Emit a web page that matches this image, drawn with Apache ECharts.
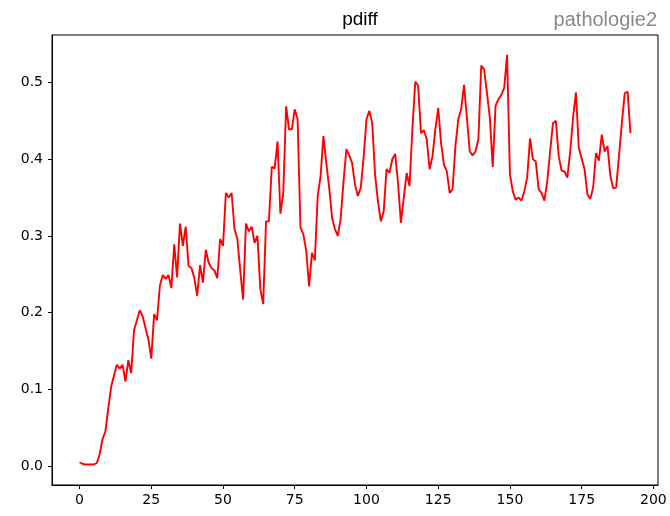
<!DOCTYPE html>
<html>
<head>
<meta charset="utf-8">
<script src="https://cdn.jsdelivr.net/npm/echarts@6/dist/echarts.min.js"></script>
<style>
  html, body { margin: 0; padding: 0; background: #fff; }
  #main { width: 670px; height: 516px; }
</style>
</head>
<body>
<div id="main"></div>
<script>
// pdiff values, one per step 0..192
var pdiff = [
  0.005, 0.003, 0.002, 0.002, 0.002, 0.002, 0.004, 0.015, 0.035, 0.045,
  0.075, 0.103, 0.118, 0.132, 0.127, 0.132, 0.110, 0.138, 0.121, 0.177,
  0.190, 0.203, 0.195, 0.180, 0.165, 0.140, 0.198, 0.190, 0.235, 0.249,
  0.244, 0.249, 0.232, 0.289, 0.246, 0.316, 0.287, 0.312, 0.261, 0.258,
  0.245, 0.222, 0.262, 0.239, 0.282, 0.265, 0.258, 0.255, 0.245, 0.296,
  0.287, 0.356, 0.350, 0.356, 0.309, 0.296, 0.255, 0.217, 0.316, 0.306,
  0.312, 0.291, 0.300, 0.231, 0.211, 0.319, 0.319, 0.390, 0.388, 0.423,
  0.329, 0.356, 0.469, 0.439, 0.439, 0.465, 0.452, 0.311, 0.302, 0.281,
  0.234, 0.278, 0.268, 0.352, 0.378, 0.430, 0.395, 0.363, 0.324, 0.309,
  0.300, 0.322, 0.371, 0.413, 0.405, 0.395, 0.367, 0.352, 0.363, 0.402,
  0.452, 0.463, 0.447, 0.380, 0.345, 0.319, 0.332, 0.387, 0.382, 0.400,
  0.407, 0.369, 0.317, 0.350, 0.382, 0.365, 0.439, 0.501, 0.496, 0.434,
  0.438, 0.426, 0.387, 0.404, 0.439, 0.467, 0.421, 0.393, 0.384, 0.356,
  0.361, 0.417, 0.452, 0.465, 0.497, 0.454, 0.410, 0.405, 0.410, 0.426,
  0.522, 0.517, 0.486, 0.454, 0.390, 0.470, 0.478, 0.484, 0.493, 0.536,
  0.380, 0.358, 0.347, 0.350, 0.346, 0.358, 0.376, 0.427, 0.400, 0.397,
  0.361, 0.356, 0.346, 0.371, 0.410, 0.447, 0.450, 0.404, 0.385, 0.384,
  0.376, 0.410, 0.454, 0.487, 0.415, 0.401, 0.387, 0.354, 0.348, 0.363,
  0.408, 0.398, 0.432, 0.410, 0.417, 0.378, 0.362, 0.363, 0.404, 0.447,
  0.486, 0.488, 0.434
];
var xTicks = [0, 25, 50, 75, 100, 125, 150, 175, 200];
var yTicks = [0.0, 0.1, 0.2, 0.3, 0.4, 0.5];
var titleText = 'pdiff';
var sideText = 'pathologie2';

var chart = echarts.init(document.getElementById('main'));

var points = pdiff.map(function (v, i) { return [i, v]; });

var option = {
  animation: false,
  backgroundColor: '#fff',
  textStyle: { fontFamily: 'DejaVu Sans' },
  title: [{
    text: titleText,
    left: 355,
    top: 5,
    textAlign: 'center',
    textStyle: { fontFamily: 'Liberation Sans', fontSize: 19, fontWeight: 'normal', color: '#000' }
  }, {
    text: sideText,
    right: 8,
    top: 5,
    textStyle: { fontFamily: 'Liberation Sans', fontSize: 20, fontWeight: 'normal', color: '#888' }
  }],
  grid: {
    left: 52, right: 12, top: 35, bottom: 31,
    show: true, borderColor: '#000', borderWidth: 1,
    containLabel: false
  },
  xAxis: {
    type: 'value',
    min: -9.6,
    max: 201.6,
    splitLine: { show: false },
    axisLine: { show: true, onZero: false, lineStyle: { color: '#000' } },
    axisTick: { show: true, inside: false, length: 4, customValues: xTicks, lineStyle: { color: '#000' } },
    axisLabel: {
      customValues: xTicks, margin: 8,
      color: '#000', fontSize: 14, fontFamily: 'DejaVu Sans'
    }
  },
  yAxis: {
    type: 'value',
    min: -0.0247,
    max: 0.5619,
    splitLine: { show: false },
    axisLine: { show: true, onZero: false, lineStyle: { color: '#000' } },
    axisTick: { show: true, inside: false, length: 4, customValues: yTicks, lineStyle: { color: '#000' } },
    axisLabel: {
      customValues: yTicks, margin: 9,
      color: '#000', fontSize: 14, fontFamily: 'DejaVu Sans',
      formatter: function (v) { return v.toFixed(1); }
    }
  },
  series: [{
    name: 'pdiff',
    type: 'line',
    data: points,
    showSymbol: false,
    lineStyle: { color: '#ff0000', width: 1.9 },
    itemStyle: { color: '#ff0000' }
  }]
};
chart.setOption(option);
</script>
</body>
</html>
